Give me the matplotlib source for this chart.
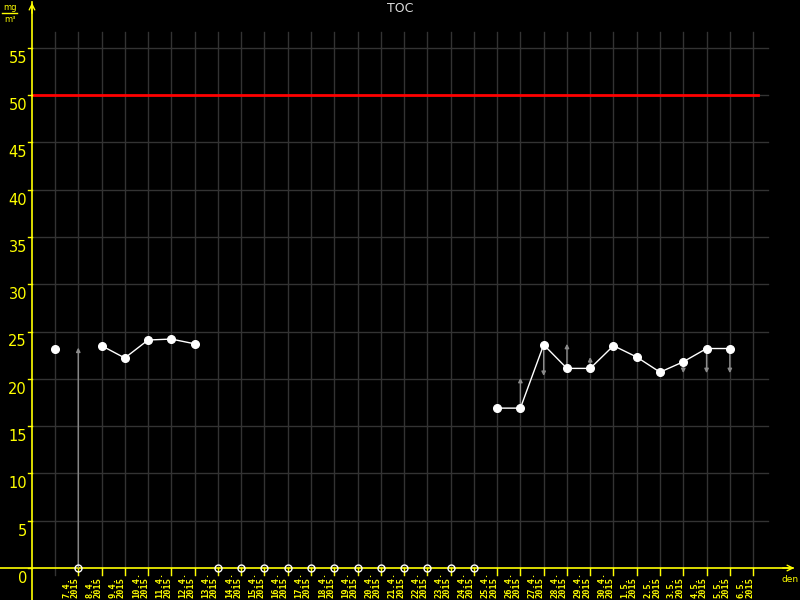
import matplotlib
matplotlib.use("Agg")
import matplotlib.pyplot as plt
import numpy as np

# day labels (first point has no label of its own)
dates = ["7.4.", "8.4.", "9.4.", "10.4.", "11.4.", "12.4.", "13.4.", "14.4.",
         "15.4.", "16.4.", "17.4.", "18.4.", "19.4.", "20.4.", "21.4.", "22.4.",
         "23.4.", "24.4.", "25.4.", "26.4.", "27.4.", "28.4.", "29.4.", "30.4.",
         "1.5.", "2.5.", "3.5.", "4.5.", "5.5.", "6.5."]
year = "2015"

# TOC values in mg/m3, 0 = no measurement, nan = nothing drawn
toc = [23.2, 0, 23.5, 22.2, 24.1, 24.2, 23.7,
       0, 0, 0, 0, 0, 0, 0, 0, 0, 0, 0, 0,
       16.9, 16.9, 23.6, 21.1, 21.1, 23.5, 22.3, 20.7, 21.8, 23.2, 23.2, np.nan]

# gray arrows: (day index, start, end)
arrows = [(1, 0, 23.3), (20, 16.9, 20.1), (21, 23.6, 20.3), (22, 21.1, 23.7),
          (23, 21.1, 22.3), (27, 21.8, 20.6), (28, 23.2, 20.6), (29, 23.2, 20.6)]

limit = 50
yticks = np.arange(0, 60, 5)

# pixel layout helpers
DX, DY = 23.27, 9.46
def px(x):
    return (x - 55) / DX
def py(y):
    return (568 - y) / DY

fig = plt.figure(figsize=(8, 6), dpi=100, facecolor="black")
ax = fig.add_axes([0, 0, 1, 1])
ax.set_facecolor("black")
ax.set_xlim(px(0), px(800))
ax.set_ylim(py(600), py(0))
ax.axis("off")

n = len(toc)
grid_c = "#333333"
yel = "#ffff00"

# grid
for i in range(n):
    ax.plot([i, i], [py(575), py(32)], color=grid_c, lw=1, zorder=1)
for v in yticks[1:]:
    ax.plot([px(32), px(768)], [v, v], color=grid_c, lw=1, zorder=1)

# limit line
ax.plot([px(32), px(758)], [limit, limit], color="#ff0000", lw=2, zorder=3)

# axes
ax.plot([px(32), px(32)], [py(600), py(2)], color=yel, lw=1.2, zorder=4)
ax.plot([px(0), px(793)], [0, 0], color=yel, lw=1.2, zorder=4)
ax.annotate("", xy=(px(32), py(0)), xytext=(px(32), py(16)),
            arrowprops=dict(arrowstyle="->", color=yel, lw=1, mutation_scale=10), zorder=4)
ax.annotate("", xy=(px(797), 0), xytext=(px(780), 0),
            arrowprops=dict(arrowstyle="->", color=yel, lw=1, mutation_scale=10), zorder=4)

# y ticks + labels
for v in yticks:
    ax.plot([px(28), px(32)], [v, v], color=yel, lw=1, zorder=4)
    ax.text(px(27), v - 3 / DY, str(v), color=yel, fontsize=10.5,
            ha="right", va="top", zorder=4)

# x ticks + labels
for i, d in enumerate(dates, start=1):
    ax.plot([i, i], [0, py(575)], color=yel, lw=1, zorder=4)
    ax.text(i + 1 / DX, py(598), d + "\n" + year, color=yel, fontsize=6.2,
            family="DejaVu Sans Mono", fontweight="bold", rotation=90,
            ha="right", va="bottom", multialignment="left",
            linespacing=0.9, zorder=4)

# gray arrows
for i, a, b in arrows:
    ax.annotate("", xy=(i, b), xytext=(i, a),
                arrowprops=dict(arrowstyle="-|>", color="#8a8a8a", lw=1,
                                mutation_scale=6, shrinkA=0, shrinkB=0), zorder=5)

# connected segments of measured values
vals = np.array(toc, dtype=float)
seg = np.where(vals > 0, vals, np.nan)
ax.plot(np.arange(n), seg, color="white", lw=1, zorder=6)
ax.plot(np.arange(n), seg, "o", color="white", ms=5.5, zorder=7)

# zero / missing markers
zi = [i for i, v in enumerate(toc) if v == 0]
ax.plot(zi, [0] * len(zi), "o", mfc="none", mec="white", mew=1, ms=5, zorder=7)

# texts
fig.text(400 / 800, 1 - 8 / 600, "TOC", color="#dddddd", fontsize=9,
         ha="center", va="center")
fig.text(10 / 800, 1 - 7 / 600, "mg", color=yel, fontsize=6, ha="center", va="center")
ax.plot([px(2), px(17)], [py(13), py(13)], color=yel, lw=1, zorder=4)
fig.text(10 / 800, 1 - 19 / 600, "m³", color=yel, fontsize=6, ha="center", va="center")
fig.text(790 / 800, 1 - 580 / 600, "den", color=yel, fontsize=6.5, ha="center", va="center")

fig.savefig("out.png", dpi=100, facecolor="black")
